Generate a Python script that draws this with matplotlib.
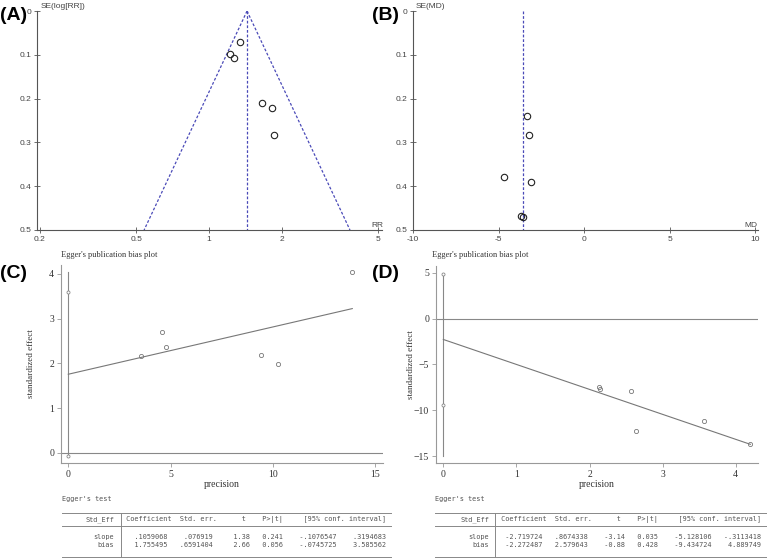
import numpy as np
import matplotlib.pyplot as plt
from matplotlib.lines import Line2D

W, H = 767, 560

# (A) funnel plot, risk ratio
rr_a = [1.344, 1.22, 1.27, 1.656, 1.82, 1.85]
se_a = [0.0708, 0.098, 0.107, 0.211, 0.221, 0.282]
pooled_a = 1.436

# (B) funnel plot, mean difference
md_b = [-3.33, -3.21, -4.67, -3.13, -3.68, -3.58]
se_b = [0.239, 0.282, 0.380, 0.390, 0.467, 0.470]
pooled_b = -3.56

# (C) egger plot
prec_c = [3.57, 4.56, 4.76, 9.43, 10.24, 13.87]
eff_c = [2.17, 2.71, 2.36, 2.19, 1.99, 4.05]
slope_c, bias_c = 0.1059068, 1.755495
ci_c = [-0.0745725, 3.585562]
vline_c = [-0.0745725, 4.05]

# (D) egger plot
prec_d = [2.13, 2.14, 2.57, 2.63, 3.56, 4.20]
eff_d = [-7.43, -7.68, -7.94, -12.19, -11.17, -13.67]
slope_d, bias_d = -2.719724, -2.272487
ci_d = [-9.434724, 4.889749]
vline_d = [-15, 4.889749]

# Egger's test tables
row_names = ["slope", "bias"]
table_c = [[".1059068", ".076919", "1.38", "0.241", "-.1076547", ".3194683"],
           ["1.755495", ".6591404", "2.66", "0.056", "-.0745725", "3.585562"]]
table_d = [["-2.719724", ".8674338", "-3.14", "0.035", "-5.128106", "-.3113418"],
           ["-2.272487", "2.579643", "-0.88", "0.428", "-9.434724", "4.889749"]]

plt.rcParams['axes.unicode_minus'] = False
fig = plt.figure(figsize=(W / 100, H / 100), dpi=100)


def fx(x):
    return x / W


def fy(y):
    return 1 - y / H


def ax_px(l, t, r, b):
    return fig.add_axes([l / W, 1 - b / H, (r - l) / W, (b - t) / H])


def hline(x0, x1, y, c='#777777', lw=0.8):
    fig.add_artist(Line2D([fx(x0), fx(x1)], [fy(y), fy(y)], transform=fig.transFigure, color=c, lw=lw))


def vline(x, y0, y1, c='#777777', lw=0.8):
    fig.add_artist(Line2D([fx(x), fx(x)], [fy(y0), fy(y1)], transform=fig.transFigure, color=c, lw=lw))


sans = 'Liberation Sans'
serif = 'Liberation Serif'
mono = 'DejaVu Sans Mono'
dash_col = '#4a4ab8'
mono_size = 4.92


def funnel_style(ax):
    for s in ['top', 'right']:
        ax.spines[s].set_visible(False)
    for s in ['left', 'bottom']:
        ax.spines[s].set_color('#555555')
        ax.spines[s].set_linewidth(0.8)
    ax.tick_params(direction='inout', length=4, width=0.6, color='#555555',
                   labelsize=6, labelcolor='#444444', pad=2)
    for lab in ax.get_xticklabels() + ax.get_yticklabels():
        lab.set_fontfamily(sans)
    ax.patch.set_alpha(0)


# ---- (A)
ax = ax_px(37, 11, 382, 230)
ax.set_xscale('log')
ax.set_xlim(0.1944, 5.19)
ax.set_ylim(0.5, 0)
se_line = np.array([0, 0.5])
ax.plot([pooled_a, pooled_a], se_line, ls=(0, (2.2, 1.5)), color=dash_col, lw=0.9)
ax.plot(pooled_a * np.exp(-1.96 * se_line), se_line, ls=(0, (2.2, 1.5)), color=dash_col, lw=0.9)
ax.plot(pooled_a * np.exp(1.96 * se_line), se_line, ls=(0, (2.2, 1.5)), color=dash_col, lw=0.9)
ax.plot(rr_a, se_a, 'o', mfc='none', mec='#222222', ms=4.6, mew=0.8, clip_on=False)
ax.set_xticks([0.2, 0.5, 1, 2, 5])
ax.set_xticklabels(['0.2', '0.5', '1', '2', '5'])
ax.xaxis.set_minor_locator(plt.NullLocator())
ax.set_yticks([0, 0.1, 0.2, 0.3, 0.4, 0.5])
ax.set_yticklabels(['0', '0.1', '0.2', '0.3', '0.4', '0.5'])
funnel_style(ax)
fig.text(fx(41), fy(6), 'SE(log[RR])', fontsize=6, family=sans, color='#444444', va='center')
fig.text(fx(377), fy(225.5), 'RR', fontsize=6, family=sans, color='#444444', ha='center', va='center')

# ---- (B)
ax = ax_px(413, 11, 758, 230)
ax.set_xlim(-10, 10.17)
ax.set_ylim(0.5, 0)
ax.plot([pooled_b, pooled_b], [0, 0.5], ls=(0, (2.2, 1.5)), color=dash_col, lw=0.9)
ax.plot(md_b, se_b, 'o', mfc='none', mec='#222222', ms=4.6, mew=0.8, clip_on=False)
ax.set_xticks([-10, -5, 0, 5, 10])
ax.set_xticklabels(['-10', '-5', '0', '5', '10'])
ax.set_yticks([0, 0.1, 0.2, 0.3, 0.4, 0.5])
ax.set_yticklabels(['0', '0.1', '0.2', '0.3', '0.4', '0.5'])
funnel_style(ax)
fig.text(fx(416), fy(6), 'SE(MD)', fontsize=6, family=sans, color='#444444', va='center')
fig.text(fx(750.5), fy(225.5), 'MD', fontsize=6, family=sans, color='#444444', ha='center', va='center')


def egger_style(ax):
    for s in ['top', 'right']:
        ax.spines[s].set_visible(False)
    for s in ['left', 'bottom']:
        ax.spines[s].set_color('#999999')
        ax.spines[s].set_linewidth(0.8)
    ax.tick_params(direction='out', length=3, width=0.6, color='#999999',
                   labelsize=7, labelcolor='#333333', pad=2)
    for lab in ax.get_xticklabels() + ax.get_yticklabels():
        lab.set_fontfamily(serif)
    ax.patch.set_alpha(0)


def egger_plot(ax, prec, eff, slope, bias, ci, vspan):
    xmax = max(prec)
    ax.axhline(0, xmin=0, xmax=1, color='#888888', lw=0.8)
    ax.plot([0, 0], vspan, color='#888888', lw=0.8)
    ax.plot([0, 0], ci, 'o', mfc='white', mec='#888888', ms=2.2, mew=0.6, clip_on=False)
    ax.plot([0, xmax], [bias, bias + slope * xmax], color='#777777', lw=0.8)
    ax.plot(prec, eff, 'o', mfc='none', mec='#777777', ms=3, mew=0.6, clip_on=False)
    ax.set_ylabel('standardized effect', fontsize=6.5, family=serif, color='#333333')
    ax.set_xlabel('precision', fontsize=7, family=serif, color='#333333', labelpad=1)


# ---- (C)
ax = ax_px(61, 265, 383, 462.7)
ax.set_xlim(-0.356, 15.37)
ax.set_ylim(-0.224, 4.20)
egger_plot(ax, prec_c, eff_c, slope_c, bias_c, ci_c, vline_c)
ax.set_xticks([0, 5, 10, 15])
ax.set_yticks([0, 1, 2, 3, 4])
egger_style(ax)
ax.yaxis.set_label_coords((35 - 61) / (383 - 61), 0.5)

# ---- (D)
ax = ax_px(436, 266, 758, 463)
ax.set_xlim(-0.10, 4.305)
ax.set_ylim(-15.73, 5.73)
egger_plot(ax, prec_d, eff_d, slope_d, bias_d, ci_d, vline_d)
ax.set_xticks([0, 1, 2, 3, 4])
ax.set_yticks([-15, -10, -5, 0, 5])
ax.set_yticklabels(['\u221215', '\u221210', '\u22125', '0', '5'])
egger_style(ax)
ax.yaxis.set_label_coords((415 - 436) / (758 - 436), 0.5)

for x0 in [61, 431.7]:
    fig.text(fx(x0), fy(255), "Egger's publication bias plot", fontsize=6, family=serif,
             color='#333333', va='center')


# ---- Egger's test tables
def egger_table(x_left, x_right, x_sep, rows):
    tc = '#555555'
    fig.text(fx(x_left), fy(499), "Egger's test", fontsize=mono_size, family=mono, color=tc, va='center')
    hline(x_left, x_right, 512.5, c='#888888', lw=0.7)
    hline(x_left, x_right, 526, c='#888888', lw=0.7)
    hline(x_left, x_right, 557, c='#888888', lw=0.7)
    vline(x_sep, 512.5, 557, c='#888888', lw=0.7)
    name_x = x_sep - 6.4
    fig.text(fx(name_x), fy(519.5), 'Std_Eff', fontsize=mono_size, family=mono, color=tc, ha='right', va='center')
    header = " Coefficient  Std. err.      t    P>|t|     [95% conf. interval]"
    fig.text(fx(x_sep + 1.2), fy(519.5), header, fontsize=mono_size, family=mono, color=tc, va='center')
    for i, (name, vals) in enumerate(zip(row_names, rows)):
        y = 537 + 8 * i
        fig.text(fx(name_x), fy(y), name, fontsize=mono_size, family=mono, color=tc, ha='right', va='center')
        line = f" {vals[0]:>10} {vals[1]:>10} {vals[2]:>8} {vals[3]:>7} {vals[4]:>12} {vals[5]:>11}"
        fig.text(fx(x_sep + 1.2), fy(y), line, fontsize=mono_size, family=mono, color=tc, va='center')


egger_table(62, 391, 120.7, table_c)
egger_table(435, 767, 495.3, table_d)

# panel letters
for lab, x, y in [('(A)', 0, 15), ('(B)', 372, 15), ('(C)', 0, 274), ('(D)', 372, 274)]:
    fig.text(fx(x), fy(y), lab, fontsize=14, fontweight='bold', family=sans, va='center')

fig.savefig('out.png', dpi=100)
